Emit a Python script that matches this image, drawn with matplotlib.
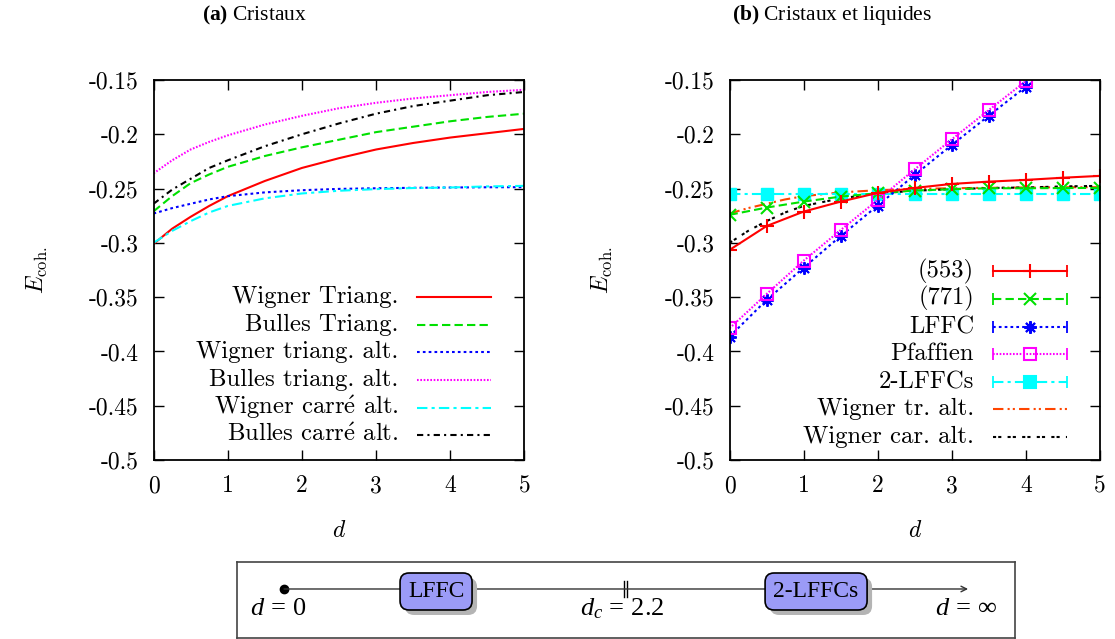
import numpy as np
import matplotlib
matplotlib.use('Agg')
import matplotlib.pyplot as plt
from matplotlib.patches import FancyBboxPatch

# ---- data ----
# panel (a): smooth curves
d_a = [0, 0.25, 0.5, 0.75, 1, 1.5, 2, 2.5, 3, 3.5, 4, 4.5, 5]
wig_tri = [-0.301, -0.287, -0.276, -0.266, -0.257, -0.243, -0.231, -0.222, -0.214, -0.208, -0.203, -0.199, -0.195]
bul_tri = [-0.271, -0.257, -0.245, -0.237, -0.230, -0.220, -0.212, -0.205, -0.198, -0.193, -0.188, -0.184, -0.181]
wig_tri_alt = [-0.273, -0.268, -0.264, -0.260, -0.257, -0.2535, -0.2515, -0.2503, -0.2497, -0.2493, -0.249, -0.2488, -0.2487]
bul_tri_alt = [-0.236, -0.224, -0.214, -0.207, -0.201, -0.191, -0.183, -0.176, -0.171, -0.167, -0.164, -0.161, -0.159]
wig_car_alt = [-0.300, -0.289, -0.280, -0.272, -0.266, -0.259, -0.2545, -0.252, -0.2505, -0.2495, -0.249, -0.248, -0.2475]
bul_car_alt = [-0.264, -0.251, -0.241, -0.231, -0.224, -0.211, -0.200, -0.190, -0.181, -0.174, -0.169, -0.164, -0.161]

# panel (b): points every 0.5
d_b = [0, 0.5, 1, 1.5, 2, 2.5, 3, 3.5, 4, 4.5, 5]
e553 = [-0.3065, -0.2845, -0.2712, -0.262, -0.254, -0.2494, -0.2457, -0.2436, -0.242, -0.240, -0.2383]
e771 = [-0.2742, -0.2675, -0.262, -0.2574, -0.2543, -0.2518, -0.2506, -0.2497, -0.2497, -0.2495, -0.2494]
d_lin = [0, 0.5, 1, 1.5, 2, 2.5, 3, 3.5, 4]
e_lffc = [-0.3864, -0.3526, -0.3229, -0.2937, -0.2656, -0.2374, -0.2098, -0.1828, -0.1561]
e_pfaff = [-0.3787, -0.3471, -0.3164, -0.2882, -0.2604, -0.2322, -0.2046, -0.1776, -0.1509]
e_2lffc = [-0.2552, -0.2552, -0.2552, -0.2552, -0.2552, -0.2552, -0.2552, -0.2552, -0.2552, -0.2552, -0.2552]

yticks = [-0.15, -0.2, -0.25, -0.3, -0.35, -0.4, -0.45, -0.5]
ytick_labels = ['-0.15', '-0.2', '-0.25', '-0.3', '-0.35', '-0.4', '-0.45', '-0.5']
xticks = [0, 1, 2, 3, 4, 5]
xtick_labels = ['0', '1', '2', '3', '4', '5']

# ---- style ----
plt.rcParams['font.family'] = 'cmr10'
plt.rcParams['axes.unicode_minus'] = False
plt.rcParams['mathtext.fontset'] = 'custom'
plt.rcParams['mathtext.rm'] = 'Liberation Serif'
plt.rcParams['mathtext.it'] = 'Liberation Serif:italic'
plt.rcParams['mathtext.bf'] = 'Liberation Serif:bold'

FS = 17
LFS = 17.8
LW = 1.5

fig = plt.figure(figsize=(11.15, 6.39), dpi=100)
ax1 = fig.add_axes([0.1377, 0.2801, 0.3327, 0.5947])
ax2 = fig.add_axes([0.6543, 0.2801, 0.3323, 0.5947])


def setup(ax, ylab_x):
    ax.set_xlim(0, 5)
    ax.set_ylim(-0.5, -0.15)
    ax.set_xticks(xticks)
    ax.set_xticklabels(xtick_labels)
    ax.set_yticks(yticks)
    ax.set_yticklabels(ytick_labels)
    ax.tick_params(direction='in', length=7, width=1, top=True, right=True,
                   labelsize=FS, pad=11)
    for s in ax.spines.values():
        s.set_linewidth(1.3)
    ax.set_ylabel(r'$E_{\rm coh.}$', math_fontfamily='cm', fontsize=FS)
    ax.yaxis.set_label_coords(ylab_x, 0.5)
    ax.set_xlabel(r'$d$', math_fontfamily='cm', fontsize=FS)
    ax.xaxis.set_label_coords(0.5, -0.158)


def legend_row(ax, y, label, color, ls, lw=LW, marker=None, ms=8, mfc=None, caps=False):
    ax.text(0.66, y, label, transform=ax.transAxes, ha='right', va='center',
            fontsize=LFS, math_fontfamily='cm')
    ax.plot([0.71, 0.91], [y, y], transform=ax.transAxes, color=color, ls=ls, lw=lw,
            clip_on=False)
    if caps:
        ax.plot([0.71, 0.91], [y, y], transform=ax.transAxes, ls='none', marker='|',
                ms=8, mew=1.3, color=color, clip_on=False)
    if marker is not None:
        ax.plot([0.81], [y], transform=ax.transAxes, ls='none', marker=marker, ms=ms,
                mew=1.5, color=color, mfc=mfc if mfc else color, clip_on=False)


# ---- panel (a) ----
s_a = [
    (wig_tri, 'Wigner Triang.', 'red', '-'),
    (bul_tri, 'Bulles Triang.', '#00e000', (0, (4, 2))),
    (wig_tri_alt, 'Wigner triang. alt.', 'blue', (0, (1.3, 1.5))),
    (bul_tri_alt, 'Bulles triang. alt.', 'magenta', (0, (0.8, 0.8))),
    (wig_car_alt, r'Wigner carr$\acute{\rm e}$ alt.', 'cyan', (0, (5, 2, 1.5, 2))),
    (bul_car_alt, r'Bulles carr$\acute{\rm e}$ alt.', 'black', (0, (3, 2, 1, 2))),
]
leg_y_a = [0.429, 0.356, 0.284, 0.211, 0.138, 0.066]
for (vals, lab, col, ls), ly in zip(s_a, leg_y_a):
    ax1.plot(d_a, vals, color=col, ls=ls, lw=LW)
    legend_row(ax1, ly, lab, col, ls)
setup(ax1, -0.279)

# ---- panel (b) ----
ax2.plot(d_a, wig_tri_alt, color='#ff4500', ls=(0, (5, 2, 1, 1.5, 1, 2)), lw=LW)
ax2.plot(d_a, wig_car_alt, color='black', ls=(0, (1.5, 1, 1.5, 3)), lw=LW)
ax2.plot(d_b, e_2lffc, color='cyan', ls=(0, (5, 2, 1.5, 2)), lw=LW, marker='s', ms=8)
ax2.plot(d_b, e771, color='#00e000', ls=(0, (4, 2)), lw=LW, marker='x', ms=8, mew=1.5)
ax2.plot(d_lin, e_lffc, color='blue', ls=(0, (1.3, 1.5)), lw=LW, marker=(8, 2, 0), ms=9, mew=1.4)
ax2.plot(d_lin, e_pfaff, color='magenta', ls=(0, (0.8, 0.8)), lw=LW, marker='s', ms=8,
         mfc='none', mew=1.5)
ax2.plot(d_b, e553, color='red', ls='-', lw=LW, marker='+', ms=10, mew=1.5)

leg_y_b = [0.497, 0.424, 0.350, 0.279, 0.205, 0.134, 0.061]
legend_row(ax2, leg_y_b[0], '(553)', 'red', '-', marker='+', ms=10, caps=True)
legend_row(ax2, leg_y_b[1], '(771)', '#00e000', (0, (4, 2)), marker='x', caps=True)
legend_row(ax2, leg_y_b[2], 'LFFC', 'blue', (0, (1.3, 1.5)), marker=(8, 2, 0), ms=9, caps=True)
legend_row(ax2, leg_y_b[3], 'Pfaffien', 'magenta', (0, (0.8, 0.8)), marker='s', mfc='none', caps=True)
legend_row(ax2, leg_y_b[4], '2-LFFCs', 'cyan', (0, (5, 2, 1.5, 2)), marker='s', caps=True)
legend_row(ax2, leg_y_b[5], 'Wigner tr. alt.', '#ff4500', (0, (5, 2, 1, 1.5, 1, 2)))
legend_row(ax2, leg_y_b[6], 'Wigner car. alt.', 'black', (0, (1.5, 1, 1.5, 3)))
setup(ax2, -0.31)

# ---- titles ----
fig.text(0.2287, 0.9765, r'$\mathbf{(a)}$ Cristaux', fontfamily='Liberation Serif',
         math_fontfamily='custom', fontsize=15.5, ha='center', va='center')
fig.text(0.746, 0.9765, r'$\mathbf{(b)}$ Cristaux et liquides', fontfamily='Liberation Serif',
         math_fontfamily='custom', fontsize=15.5, ha='center', va='center')

# ---- bottom scheme (pixel-like units inside the box) ----
ax3 = fig.add_axes([0.2126, 0.0016, 0.6978, 0.1189])
ax3.set_xlim(0, 778)
ax3.set_ylim(0, 76)
ax3.set_xticks([])
ax3.set_yticks([])
for s in ax3.spines.values():
    s.set_color('#444444')
    s.set_linewidth(1.2)

ax3.annotate('', xy=(731, 49), xytext=(47, 49),
             arrowprops=dict(arrowstyle='->', color='#333333', lw=1, shrinkA=0, shrinkB=0,
                             mutation_scale=10))
ax3.plot([47], [49], 'o', color='black', ms=6)
ax3.plot([386.5, 386.5], [41, 57], color='black', lw=1)
ax3.plot([389.5, 389.5], [41, 57], color='black', lw=1)

for x0, w, lab in [(163, 72, 'LFFC'), (528, 102, '2-LFFCs')]:
    sh = FancyBboxPatch((x0 + 5, 28 - 5), w, 37, boxstyle='round,pad=0,rounding_size=9',
                        fc='#b4b4b4', ec='none', zorder=3)
    ax3.add_patch(sh)
    bx = FancyBboxPatch((x0, 28), w, 37, boxstyle='round,pad=0,rounding_size=9',
                        fc='#9b9bf7', ec='black', lw=1.2, zorder=4)
    ax3.add_patch(bx)
    ax3.text(x0 + w / 2, 46.5, lab, ha='center', va='center', fontsize=17,
             fontfamily='Liberation Serif', zorder=5)

for xc, lab in [(41, r'$d\,=\,0$'), (385, r'$d_c\,=\,2.2$'), (729, r'$d\,=\,\infty$')]:
    ax3.text(xc, 29, lab, ha='center', va='center', fontsize=19,
             fontfamily='Liberation Serif', math_fontfamily='custom')

fig.savefig('out.png', dpi=100)
